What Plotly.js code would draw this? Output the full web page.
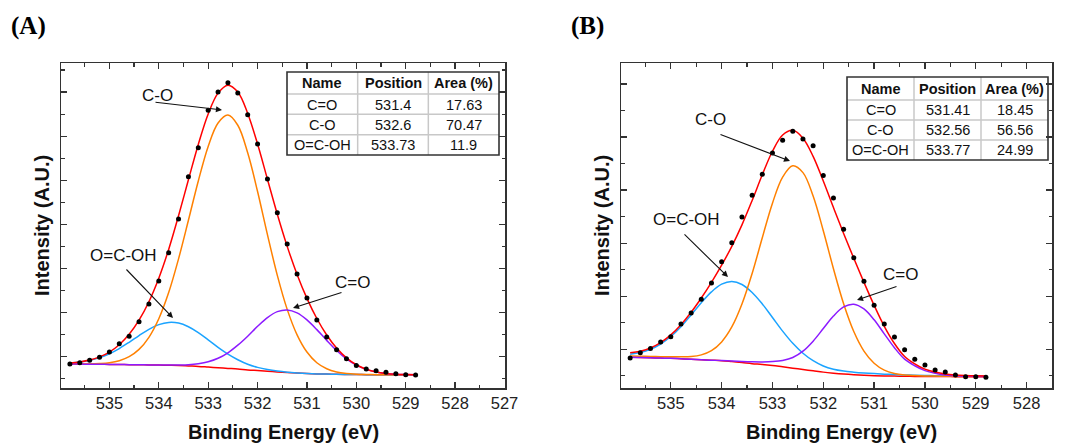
<!DOCTYPE html>
<html>
<head>
<meta charset="utf-8">
<script src="https://cdn.plot.ly/plotly-3.0.1.min.js"></script>
<style>html,body{margin:0;padding:0;background:#fff}#chart{width:1065px;height:443px}</style>
</head>
<body>
<div id="chart"></div>
<script>
// Binding energy grid (eV)
const energy = [535.8,535.6,535.4,535.2,535.0,534.8,534.6,534.4,534.2,534.0,533.8,533.6,533.4,533.2,533.0,532.8,532.6,532.4,532.2,532.0,531.8,531.6,531.4,531.2,531.0,530.8,530.6,530.4,530.2,530.0,529.8,529.6,529.4,529.2,529.0,528.8];

// Panel A (arbitrary intensity units)
const A_raw = [-0.166,-0.136,-0.083,-0.015,0.106,0.295,0.461,0.794,1.194,1.716,2.358,3.122,4.082,4.739,5.586,6.002,6.213,5.979,5.488,4.822,4.029,3.265,2.555,1.875,1.330,0.831,0.446,0.159,-0.045,-0.197,-0.280,-0.317,-0.355,-0.385,-0.408,-0.416];
const A_envelope = [-0.142,-0.118,-0.077,-0.005,0.106,0.272,0.507,0.827,1.247,1.78,2.433,3.195,4.012,4.813,5.505,5.976,6.157,6.0,5.517,4.822,4.024,3.23,2.502,1.866,1.323,0.866,0.491,0.195,-0.027,-0.183,-0.284,-0.346,-0.379,-0.397,-0.404,-0.408];
const A_background = [-0.166,-0.168,-0.17,-0.172,-0.175,-0.178,-0.18,-0.183,-0.186,-0.19,-0.195,-0.2,-0.21,-0.22,-0.235,-0.25,-0.265,-0.28,-0.3,-0.315,-0.33,-0.345,-0.36,-0.372,-0.382,-0.39,-0.395,-0.4,-0.403,-0.405,-0.407,-0.408,-0.409,-0.41,-0.41,-0.41];
const A_CO = [-0.166,-0.165,-0.164,-0.155,-0.136,-0.091,0.0,0.165,0.44,0.861,1.454,2.219,3.093,3.985,4.769,5.30,5.48,5.248,4.623,3.745,2.768,1.845,1.073,0.496,0.105,-0.138,-0.274,-0.346,-0.381,-0.397,-0.404,-0.408,-0.409,-0.41,-0.41,-0.41];
const A_CdO = [-0.166,-0.168,-0.17,-0.172,-0.175,-0.178,-0.18,-0.183,-0.186,-0.19,-0.189,-0.187,-0.18,-0.158,-0.115,-0.036,0.089,0.261,0.465,0.689,0.887,1.021,1.06,0.994,0.835,0.614,0.37,0.141,-0.049,-0.191,-0.287,-0.346,-0.379,-0.397,-0.404,-0.408];
const A_OCOH = [-0.142,-0.121,-0.083,-0.022,0.067,0.185,0.327,0.479,0.621,0.727,0.778,0.763,0.679,0.546,0.381,0.212,0.058,-0.069,-0.171,-0.242,-0.291,-0.326,-0.351,-0.368,-0.381,-0.39,-0.395,-0.4,-0.403,-0.405,-0.407,-0.408,-0.409,-0.41,-0.41,-0.41];

// Panel B
const B_raw = [-0.163,-0.063,0.013,0.138,0.239,0.477,0.685,0.942,1.250,1.652,2.010,2.494,2.902,3.298,3.700,3.938,4.108,3.964,3.838,3.273,2.852,2.261,1.727,1.281,0.829,0.477,0.232,-0.006,-0.188,-0.295,-0.389,-0.427,-0.484,-0.515,-0.515,-0.528];
const B_envelope = [-0.066,-0.035,0.025,0.126,0.271,0.464,0.698,0.967,1.262,1.585,1.94,2.345,2.804,3.289,3.732,4.038,4.126,3.979,3.636,3.171,2.671,2.182,1.715,1.262,0.829,0.434,0.11,-0.135,-0.273,-0.373,-0.429,-0.465,-0.484,-0.494,-0.5,-0.503];
const B_background = [-0.151,-0.155,-0.16,-0.165,-0.17,-0.178,-0.186,-0.195,-0.205,-0.215,-0.232,-0.25,-0.27,-0.285,-0.305,-0.33,-0.355,-0.38,-0.405,-0.43,-0.45,-0.467,-0.48,-0.49,-0.497,-0.502,-0.505,-0.508,-0.51,-0.512,-0.513,-0.514,-0.515,-0.515,-0.515,-0.515];
const B_CO = [-0.126,-0.13,-0.135,-0.139,-0.141,-0.141,-0.136,-0.105,-0.025,0.14,0.421,0.853,1.429,2.102,2.754,3.245,3.458,3.329,2.887,2.235,1.519,0.859,0.335,-0.033,-0.263,-0.393,-0.455,-0.483,-0.495,-0.502,-0.505,-0.508,-0.51,-0.511,-0.512,-0.512];
const B_CdO = [-0.151,-0.155,-0.16,-0.165,-0.17,-0.178,-0.186,-0.195,-0.205,-0.212,-0.222,-0.23,-0.236,-0.238,-0.232,-0.21,-0.155,-0.035,0.154,0.391,0.627,0.798,0.85,0.761,0.556,0.291,0.03,-0.186,-0.31,-0.402,-0.453,-0.484,-0.5,-0.507,-0.511,-0.513];
const B_OCOH = [-0.091,-0.06,0.0,0.1,0.242,0.427,0.648,0.877,1.082,1.227,1.277,1.222,1.071,0.855,0.6,0.343,0.113,-0.075,-0.215,-0.315,-0.375,-0.409,-0.43,-0.446,-0.458,-0.468,-0.475,-0.482,-0.488,-0.493,-0.497,-0.501,-0.504,-0.506,-0.507,-0.508];

// Tables
const tableHeader = ['Name','Position','Area (%)'];
const peakNames = ['C=O','C-O','O=C-OH'];
const A_positions = ['531.4','532.6','533.73'];
const A_areas = ['17.63','70.47','11.9'];
const B_positions = ['531.41','532.56','533.77'];
const B_areas = ['18.45','56.56','24.99'];

const FONT = 'Liberation Sans, Arial, Helvetica, sans-serif';
const C = {red:'#ff0000', orange:'#ff8000', blue:'#1aa3ff', purple:'#8c1aff'};

function curves(y, color, xa, ya){
  return {type:'scatter', mode:'lines', x:energy, y:y, xaxis:xa, yaxis:ya,
    line:{color:color, width:1.5, shape:'spline', smoothing:1}, hoverinfo:'skip', showlegend:false};
}
function panel(bg, co, cdo, ocoh, env, raw, xa, ya){
  return [
    curves(bg, C.red, xa, ya),
    curves(ocoh, C.blue, xa, ya),
    curves(co, C.orange, xa, ya),
    curves(cdo, C.purple, xa, ya),
    curves(env, C.red, xa, ya),
    {type:'scatter', mode:'markers', x:energy, y:raw, xaxis:xa, yaxis:ya,
     marker:{color:'#000', size:5}, showlegend:false, hoverinfo:'skip'}
  ];
}

const W = 1065, H = 443;
const px = v => v / W, py = v => 1 - v / H;

// Table drawn with shapes + annotations (pixel box: x0,x1,y0,y1; header height)
function buildTable(box, cols, shapes, annos){
  const [x0, x1, y0, y1, hh] = box;
  const nRows = cols[0].length;
  const rh = (y1 - y0 - hh) / (nRows - 1);
  const cw = (x1 - x0) / cols.length;
  const inner = {color:'#c8c8c8', width:1.5};
  for (let r = 1; r < nRows; r++){
    const yy = y0 + hh + (r - 1) * rh;
    shapes.push({type:'line', xref:'paper', yref:'paper', x0:px(x0), x1:px(x1), y0:py(yy), y1:py(yy), line:inner});
  }
  for (let c = 1; c < cols.length; c++){
    const xx = x0 + c * cw;
    shapes.push({type:'line', xref:'paper', yref:'paper', x0:px(xx), x1:px(xx), y0:py(y0), y1:py(y1), line:inner});
  }
  shapes.push({type:'rect', xref:'paper', yref:'paper', x0:px(x0), x1:px(x1), y0:py(y1), y1:py(y0), line:{color:'#333', width:1.6}});
  cols.forEach((col, c) => {
    col.forEach((txt, r) => {
      const yc = r === 0 ? y0 + hh / 2 : y0 + hh + (r - 0.5) * rh;
      annos.push({xref:'paper', yref:'paper', x:px(x0 + (c + 0.5) * cw), y:py(yc + 0.5), text: r === 0 ? '<b>' + txt + '</b>' : txt,
        showarrow:false, xanchor:'center', yanchor:'middle', font:{family:FONT, size:14.5, color:'#111'}});
    });
  });
}

function xaxisDef(domain, range){
  return {domain:domain, range:range, showgrid:false, zeroline:false,
    showline:true, linecolor:'#333', linewidth:1.5, mirror:'allticks',
    ticks:'inside', ticklen:6, tickwidth:1.3, tickcolor:'#333',
    tick0:0, dtick:1, minor:{ticks:'inside', ticklen:3.5, dtick:0.5, tickwidth:1.2, tickcolor:'#333'},
    tickfont:{family:FONT, size:16.5, color:'#222'}, ticklabelstandoff:0, fixedrange:true};
}
function yaxisDef(domain, range, anchor){
  return {domain:domain, range:range, anchor:anchor, showgrid:false, zeroline:false,
    showline:true, linecolor:'#333', linewidth:1.5, mirror:'allticks',
    ticks:'inside', ticklen:6, tickwidth:1.3, tickcolor:'#333',
    tick0:0, dtick:1, minor:{ticks:'inside', ticklen:3.5, dtick:0.5, tickwidth:1.2, tickcolor:'#333'},
    showticklabels:false, fixedrange:true};
}

const yDom = [py(388), py(63)];
function label(text, x, y, size, extra){
  return Object.assign({xref:'paper', yref:'paper', x:px(x), y:py(y), text:text, showarrow:false,
    xanchor:'center', yanchor:'middle', font:{family:FONT, size:size, color:'#111'}}, extra||{});
}
function arrow(hx, hy, tx, ty){
  return {xref:'paper', yref:'paper', x:px(hx), y:py(hy), ax:tx-hx, ay:ty-hy, text:'',
    showarrow:true, arrowhead:2, arrowsize:1.1, arrowwidth:1.1, arrowcolor:'#111'};
}

const shapes = [];
const annotations = [
  label('<b>(A)</b>', 28, 26, 25, {font:{family:'Liberation Serif, Times New Roman, serif', size:25, color:'#000'}}),
  label('<b>(B)</b>', 587, 26, 25, {font:{family:'Liberation Serif, Times New Roman, serif', size:25, color:'#000'}}),
  label('<b>Binding Energy (eV)</b>', 283, 432, 20, {font:{family:FONT, size:20, color:'#111'}}),
  label('<b>Binding Energy (eV)</b>', 841, 432, 20, {font:{family:FONT, size:20, color:'#111'}}),
  label('<b>Intensity (A.U.)</b>', 42, 226, 20, {textangle:-90, font:{family:FONT, size:20, color:'#111'}}),
  label('<b>Intensity (A.U.)</b>', 602, 226, 20, {textangle:-90, font:{family:FONT, size:20, color:'#111'}}),
  label('C-O', 157, 95, 17),
  label('O=C-OH', 123, 256, 17),
  label('C=O', 352, 282, 17),
  label('C-O', 710, 119, 17),
  label('O=C-OH', 686, 220, 17),
  label('C=O', 900, 274, 17),
  arrow(222, 110, 154, 102),
  arrow(173, 318, 125, 268),
  arrow(293, 308, 343, 292),
  arrow(790, 161, 719, 134),
  arrow(728, 277, 683, 233),
  arrow(857, 300, 898, 286)
];
buildTable([287, 499, 72, 155, 22],
  [[tableHeader[0], ...peakNames], [tableHeader[1], ...A_positions], [tableHeader[2], ...A_areas]], shapes, annotations);
buildTable([847, 1048, 77, 160, 23],
  [[tableHeader[0], ...peakNames], [tableHeader[1], ...B_positions], [tableHeader[2], ...B_areas]], shapes, annotations);

const data = [
  ...panel(A_background, A_CO, A_CdO, A_OCOH, A_envelope, A_raw, 'x', 'y'),
  ...panel(B_background, B_CO, B_CdO, B_OCOH, B_envelope, B_raw, 'x2', 'y2')
];

const layout = {
  width:W, height:H, margin:{l:0, r:0, t:0, b:0},
  paper_bgcolor:'#fff', plot_bgcolor:'#fff', showlegend:false,
  xaxis: Object.assign(xaxisDef([px(61), px(505)], [535.98, 526.99]), {anchor:'y'}),
  yaxis: yaxisDef(yDom, [-0.71, 6.66], 'x'),
  xaxis2: Object.assign(xaxisDef([px(621), px(1052)], [535.98, 527.5]), {anchor:'y2'}),
  yaxis2: yaxisDef(yDom, [-0.729, 5.395], 'x2'),
  shapes: shapes,
  annotations: annotations
};

Plotly.newPlot('chart', data, layout, {displayModeBar:false, staticPlot:true});
</script>
</body>
</html>
